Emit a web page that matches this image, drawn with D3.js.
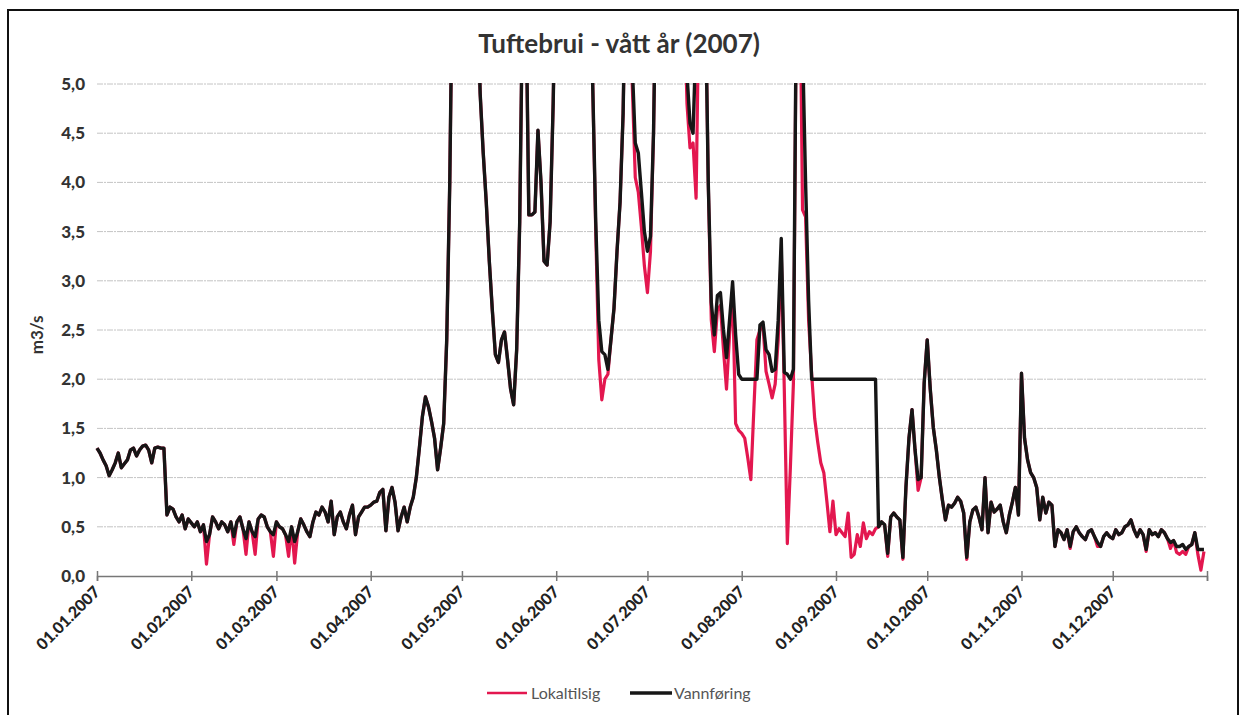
<!DOCTYPE html>
<html><head><meta charset="utf-8">
<script src="https://cdn.jsdelivr.net/npm/d3@7"></script>
<style>
html,body{margin:0;padding:0;background:#fff;}
svg{display:block;}
</style></head>
<body>
<svg id="chart" width="1243" height="715"></svg>
<script>
const title = "Tuftebrui - vått år (2007)";
const yLabel = "m3/s";
const yTicks = [0,0.5,1,1.5,2,2.5,3,3.5,4,4.5,5];
const monthLabels = ["01.01.2007","01.02.2007","01.03.2007","01.04.2007","01.05.2007","01.06.2007","01.07.2007","01.08.2007","01.09.2007","01.10.2007","01.11.2007","01.12.2007"];
const seriesNames = ["Lokaltilsig","Vannføring"];

// [day of year (0 = 1 Jan 2007), m3/s]
const vannforing = [[0,1.30],[1,1.25],[2,1.18],[3,1.12],[4,1.02],[5,1.08],[6,1.15],[7,1.25],[8,1.10],[9,1.14],[10,1.18],[11,1.28],[12,1.30],[13,1.22],[14,1.28],[15,1.32],[16,1.33],[17,1.28],[18,1.15],[19,1.30],[20,1.31],[21,1.30],[22,1.30],[23,0.62],[24,0.70],[25,0.68],[26,0.60],[27,0.55],[28,0.62],[29,0.48],[30,0.58],[31,0.54],[32,0.50],[33,0.55],[34,0.45],[35,0.52],[36,0.35],[37,0.42],[38,0.60],[39,0.55],[40,0.48],[41,0.55],[42,0.52],[43,0.45],[44,0.55],[45,0.40],[46,0.55],[47,0.60],[48,0.48],[49,0.38],[50,0.55],[51,0.45],[52,0.40],[53,0.58],[54,0.62],[55,0.60],[56,0.50],[57,0.45],[58,0.42],[59,0.55],[60,0.50],[61,0.48],[62,0.42],[63,0.35],[64,0.50],[65,0.35],[66,0.45],[67,0.58],[68,0.52],[69,0.45],[70,0.40],[71,0.55],[72,0.65],[73,0.62],[74,0.70],[75,0.65],[76,0.55],[77,0.76],[78,0.42],[79,0.60],[80,0.65],[81,0.55],[82,0.48],[83,0.62],[84,0.72],[85,0.42],[86,0.60],[87,0.65],[88,0.70],[89,0.70],[90,0.72],[91,0.75],[92,0.76],[93,0.85],[94,0.88],[95,0.46],[96,0.80],[97,0.90],[98,0.75],[99,0.46],[100,0.60],[101,0.70],[102,0.55],[103,0.70],[104,0.80],[105,1.00],[106,1.30],[107,1.62],[108,1.82],[109,1.72],[110,1.57],[111,1.40],[112,1.08],[113,1.30],[114,1.55],[115,2.40],[116,4.00],[117,6.50],[121,7.50],[125,6.00],[126,4.90],[127,4.30],[128,3.80],[129,3.20],[130,2.70],[131,2.25],[132,2.17],[133,2.40],[134,2.48],[135,2.20],[136,1.90],[137,1.74],[138,2.30],[139,3.60],[140,6.00],[141,6.00],[142,3.67],[143,3.67],[144,3.70],[145,4.53],[146,4.00],[147,3.20],[148,3.16],[149,3.60],[150,4.80],[151,6.50],[157,7.00],[162,6.00],[163,5.00],[164,3.60],[165,2.60],[166,2.28],[167,2.25],[168,2.10],[169,2.40],[170,2.72],[171,3.30],[172,3.80],[173,4.70],[174,6.50],[175,6.50],[176,5.20],[177,4.40],[178,4.30],[179,3.90],[180,3.50],[181,3.30],[182,3.45],[183,4.50],[184,6.50],[189,8.00],[193,6.00],[194,5.10],[195,4.60],[196,4.50],[197,5.50],[198,6.00],[199,6.50],[200,6.00],[201,4.00],[202,2.78],[203,2.45],[204,2.85],[205,2.88],[206,2.50],[207,2.22],[208,2.60],[209,2.99],[210,2.45],[211,2.05],[212,2.00],[213,2.00],[214,2.00],[215,2.00],[216,2.00],[217,2.00],[218,2.55],[219,2.58],[220,2.30],[221,2.25],[222,2.08],[223,2.10],[224,2.60],[225,3.43],[226,2.07],[227,2.05],[228,2.00],[229,2.10],[230,6.00],[231,6.50],[232,5.40],[233,4.00],[234,2.80],[235,2.00],[240,2.00],[245,2.00],[250,2.00],[256,2.00],[257,0.50],[258,0.55],[259,0.52],[260,0.23],[261,0.60],[262,0.64],[263,0.60],[264,0.57],[265,0.19],[266,0.90],[267,1.40],[268,1.69],[269,1.28],[270,0.98],[271,1.00],[272,1.96],[273,2.40],[274,1.90],[275,1.51],[276,1.28],[277,1.00],[278,0.77],[279,0.57],[280,0.72],[281,0.70],[282,0.74],[283,0.80],[284,0.76],[285,0.64],[286,0.19],[287,0.55],[288,0.67],[289,0.70],[290,0.60],[291,0.47],[292,1.00],[293,0.44],[294,0.75],[295,0.65],[296,0.68],[297,0.72],[298,0.55],[299,0.44],[300,0.62],[301,0.75],[302,0.90],[303,0.62],[304,2.06],[305,1.40],[306,1.18],[307,1.05],[308,1.00],[309,0.90],[310,0.57],[311,0.80],[312,0.64],[313,0.75],[314,0.72],[315,0.30],[316,0.47],[317,0.44],[318,0.37],[319,0.47],[320,0.30],[321,0.45],[322,0.50],[323,0.44],[324,0.40],[325,0.37],[326,0.45],[327,0.47],[328,0.40],[329,0.34],[330,0.30],[331,0.40],[332,0.44],[333,0.40],[334,0.38],[335,0.47],[336,0.42],[337,0.44],[338,0.50],[339,0.52],[340,0.57],[341,0.47],[342,0.40],[343,0.47],[344,0.42],[345,0.27],[346,0.47],[347,0.42],[348,0.44],[349,0.40],[350,0.47],[351,0.44],[352,0.38],[353,0.34],[354,0.36],[355,0.30],[356,0.30],[357,0.32],[358,0.27],[359,0.30],[360,0.32],[361,0.44],[362,0.27],[363,0.27],[364,0.27]];

const lokaltilsig = [[0,1.30],[1,1.25],[2,1.18],[3,1.12],[4,1.02],[5,1.08],[6,1.15],[7,1.25],[8,1.10],[9,1.14],[10,1.18],[11,1.28],[12,1.30],[13,1.22],[14,1.28],[15,1.32],[16,1.33],[17,1.28],[18,1.15],[19,1.30],[20,1.31],[21,1.30],[22,1.30],[23,0.62],[24,0.70],[25,0.68],[26,0.60],[27,0.55],[28,0.62],[29,0.48],[30,0.58],[31,0.54],[32,0.50],[33,0.55],[34,0.45],[35,0.52],[36,0.12],[37,0.42],[38,0.60],[39,0.55],[40,0.48],[41,0.55],[42,0.52],[43,0.45],[44,0.55],[45,0.32],[46,0.55],[47,0.60],[48,0.48],[49,0.22],[50,0.55],[51,0.45],[52,0.22],[53,0.58],[54,0.62],[55,0.60],[56,0.50],[57,0.45],[58,0.20],[59,0.55],[60,0.50],[61,0.48],[62,0.42],[63,0.20],[64,0.50],[65,0.13],[66,0.45],[67,0.58],[68,0.52],[69,0.45],[70,0.40],[71,0.55],[72,0.65],[73,0.62],[74,0.70],[75,0.65],[76,0.55],[77,0.76],[78,0.42],[79,0.60],[80,0.65],[81,0.55],[82,0.48],[83,0.62],[84,0.72],[85,0.42],[86,0.60],[87,0.65],[88,0.70],[89,0.70],[90,0.72],[91,0.75],[92,0.76],[93,0.85],[94,0.88],[95,0.46],[96,0.80],[97,0.90],[98,0.75],[99,0.46],[100,0.60],[101,0.70],[102,0.55],[103,0.70],[104,0.80],[105,1.00],[106,1.30],[107,1.62],[108,1.82],[109,1.72],[110,1.57],[111,1.40],[112,1.08],[113,1.30],[114,1.55],[115,2.40],[116,4.00],[117,6.50],[121,7.50],[125,6.00],[126,4.90],[127,4.30],[128,3.80],[129,3.20],[130,2.70],[131,2.25],[132,2.17],[133,2.40],[134,2.48],[135,2.20],[136,1.90],[137,1.74],[138,2.30],[139,3.60],[140,6.00],[141,6.00],[142,3.67],[143,3.67],[144,3.70],[145,4.53],[146,4.00],[147,3.20],[148,3.16],[149,3.60],[150,4.80],[151,6.50],[157,7.00],[162,6.00],[163,5.00],[164,3.50],[165,2.20],[166,1.79],[167,2.00],[168,2.05],[169,2.40],[170,2.72],[171,3.30],[172,3.80],[173,4.70],[174,6.50],[175,6.50],[176,5.00],[177,4.05],[178,3.90],[179,3.55],[180,3.15],[181,2.88],[182,3.30],[183,4.50],[184,6.50],[189,8.00],[193,6.00],[194,4.80],[195,4.35],[196,4.40],[197,3.84],[198,6.00],[199,6.50],[200,6.00],[201,4.00],[202,2.60],[203,2.28],[204,2.70],[205,2.75],[206,2.30],[207,1.90],[208,2.45],[209,2.90],[210,1.55],[211,1.48],[212,1.45],[213,1.40],[214,1.20],[215,0.98],[216,1.70],[217,2.40],[218,2.50],[219,2.55],[220,2.08],[221,1.95],[222,1.81],[223,1.95],[224,2.40],[225,3.30],[226,1.90],[227,0.33],[228,1.10],[229,1.96],[230,6.00],[231,6.50],[232,3.72],[233,3.65],[234,2.60],[235,2.05],[236,1.60],[237,1.36],[238,1.15],[239,1.05],[240,0.76],[241,0.45],[242,0.76],[243,0.42],[244,0.48],[245,0.44],[246,0.40],[247,0.64],[248,0.19],[249,0.22],[250,0.42],[251,0.30],[252,0.54],[253,0.38],[254,0.45],[255,0.42],[256,0.48],[257,0.50],[258,0.55],[259,0.52],[260,0.20],[261,0.60],[262,0.64],[263,0.60],[264,0.57],[265,0.17],[266,0.90],[267,1.40],[268,1.69],[269,1.28],[270,0.87],[271,1.00],[272,1.96],[273,2.40],[274,1.90],[275,1.51],[276,1.28],[277,1.00],[278,0.77],[279,0.57],[280,0.72],[281,0.70],[282,0.74],[283,0.80],[284,0.76],[285,0.64],[286,0.17],[287,0.55],[288,0.67],[289,0.70],[290,0.60],[291,0.47],[292,1.00],[293,0.44],[294,0.75],[295,0.65],[296,0.68],[297,0.72],[298,0.55],[299,0.44],[300,0.62],[301,0.75],[302,0.90],[303,0.62],[304,2.06],[305,1.40],[306,1.18],[307,1.05],[308,1.00],[309,0.90],[310,0.57],[311,0.80],[312,0.64],[313,0.75],[314,0.72],[315,0.30],[316,0.47],[317,0.44],[318,0.37],[319,0.47],[320,0.28],[321,0.45],[322,0.50],[323,0.44],[324,0.40],[325,0.37],[326,0.45],[327,0.47],[328,0.40],[329,0.30],[330,0.30],[331,0.40],[332,0.44],[333,0.40],[334,0.38],[335,0.47],[336,0.42],[337,0.44],[338,0.50],[339,0.52],[340,0.57],[341,0.47],[342,0.40],[343,0.47],[344,0.42],[345,0.25],[346,0.47],[347,0.42],[348,0.44],[349,0.40],[350,0.47],[351,0.44],[352,0.38],[353,0.28],[354,0.36],[355,0.24],[356,0.22],[357,0.25],[358,0.22],[359,0.30],[360,0.32],[361,0.44],[362,0.22],[363,0.06],[364,0.25]];

const svg = d3.select("#chart");
const W = 1243, H = 715;
const m = {left: 97, right: 36, top: 84, bottom: 139};
const start = new Date(2007,0,1), end = new Date(2008,0,1);
const x = d3.scaleTime().domain([start,end]).range([m.left, W - m.right]);
const y = d3.scaleLinear().domain([0,5]).range([H - m.bottom, m.top]);
const toDate = d => d3.timeDay.offset(start, d);
const FONT = "Lato, 'Open Sans', 'Liberation Sans', sans-serif";

// outer frame
svg.append("rect").attr("x",8).attr("y",10).attr("width",1230).attr("height",712)
  .attr("fill","none").attr("stroke","#111").attr("stroke-width",2);

// title
svg.append("text").attr("x",619).attr("y",53).attr("text-anchor","middle")
  .attr("font-family",FONT).attr("font-weight",700).attr("font-size",26)
  .attr("fill","#333").text(title);

// gridlines
svg.append("g").selectAll("line").data(yTicks.filter(t=>t>0)).join("line")
  .attr("x1",m.left).attr("x2",W-m.right)
  .attr("y1",d=>y(d)).attr("y2",d=>y(d))
  .attr("stroke","#c4c4c4").attr("stroke-width",1).attr("stroke-dasharray","6,1,2,1");

// y axis labels
const fmt = d => d3.format(".1f")(d).replace(".",",");
svg.append("g").selectAll("text").data(yTicks).join("text")
  .attr("x",85).attr("y",d=>y(d)).attr("dy","0.35em").attr("text-anchor","end")
  .attr("font-family",FONT).attr("font-weight",900).attr("font-size",17).attr("fill","#333")
  .text(fmt);

svg.append("text").attr("transform","translate(43,"+y(2.45)+") rotate(-90)")
  .attr("text-anchor","middle").attr("font-family",FONT).attr("font-size",17).attr("font-weight",700)
  .attr("fill","#333").text(yLabel);

// x axis
const xAxis = d3.axisBottom(x).ticks(d3.timeMonth.every(1)).tickSize(5).tickFormat("");
const gx = svg.append("g").attr("transform","translate(0,"+y(0)+")").call(xAxis);
gx.select(".domain").attr("stroke","#777").attr("stroke-width",1.5);
gx.selectAll(".tick line").attr("stroke","#777").attr("stroke-width",1.5).attr("y1",-5).attr("y2",5);

const monthDates = d3.timeMonth.range(start, end);
svg.append("g").selectAll("text").data(monthDates).join("text")
  .attr("transform",d=>"translate("+(x(d)+4)+","+(y(0)+17)+") rotate(-45)")
  .attr("text-anchor","end").attr("font-family",FONT).attr("font-weight",900).attr("font-size",16)
  .attr("fill","#222").text((d,i)=>monthLabels[i]);

// clip
svg.append("clipPath").attr("id","clip").append("rect")
  .attr("x",m.left-2).attr("y",y(5)-1).attr("width",W-m.right-m.left+6).attr("height",y(0)-y(5)+6);

const line = d3.line().x(d=>x(toDate(d[0]))).y(d=>y(d[1]));
const plot = svg.append("g").attr("clip-path","url(#clip)");
plot.append("path").datum(lokaltilsig).attr("d",line).attr("fill","none")
  .attr("stroke","#e3174f").attr("stroke-width",3.2).attr("stroke-linejoin","round");
plot.append("path").datum(vannforing).attr("d",line).attr("fill","none")
  .attr("stroke","#161616").attr("stroke-width",3.4).attr("stroke-linejoin","round");

// legend
const lg = svg.append("g").attr("font-family",FONT).attr("font-size",16).attr("fill","#555");
lg.append("line").attr("x1",487).attr("x2",527).attr("y1",693).attr("y2",693).attr("stroke","#e3174f").attr("stroke-width",2.5);
lg.append("text").attr("x",531).attr("y",693).attr("dy","0.35em").text(seriesNames[0]);
lg.append("line").attr("x1",630).attr("x2",672).attr("y1",693).attr("y2",693).attr("stroke","#161616").attr("stroke-width",3.5);
lg.append("text").attr("x",674).attr("y",693).attr("dy","0.35em").text(seriesNames[1]);
</script>
</body></html>
